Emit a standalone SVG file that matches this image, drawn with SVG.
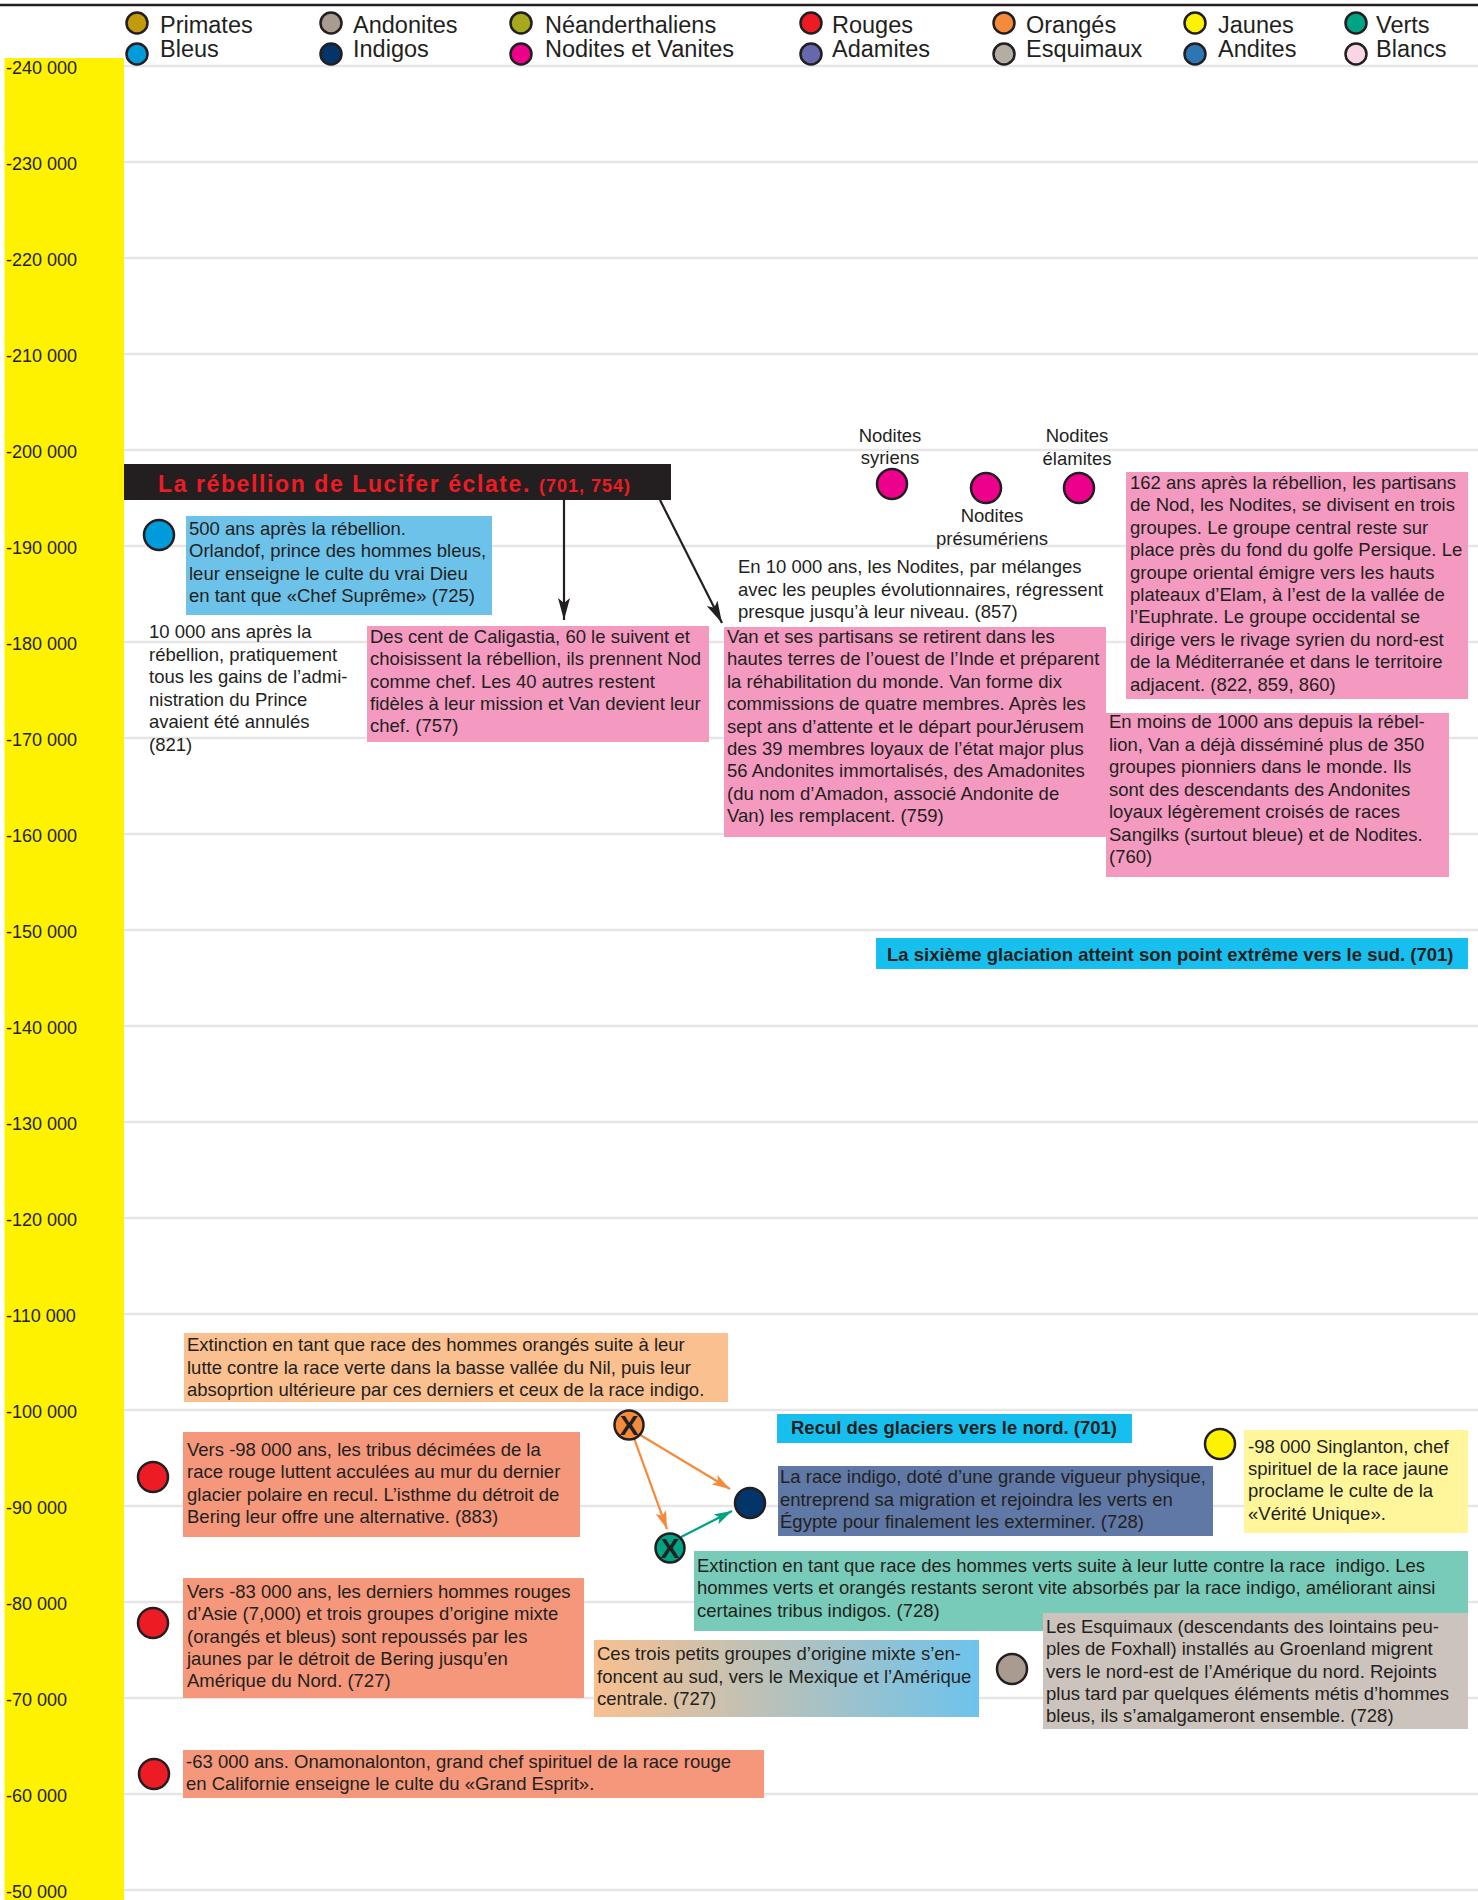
<svg xmlns="http://www.w3.org/2000/svg" width="1478" height="1900" viewBox="0 0 1478 1900">
<style>
.t{font-family:"Liberation Sans",Arial,Helvetica,sans-serif;font-size:18.5px;fill:#231f20}
.leg{font-size:23.5px}
.ax{font-size:18px}
.b{font-weight:bold}
.red{fill:#ed1c24}
.mid{text-anchor:middle}
.grid{stroke:#e6e6e6;stroke-width:2.5}
.dot{stroke:#231f20;stroke-width:2.5}
.pink{fill:#f49ac1}
.salmon{fill:#f5977b}
.cyan{fill:#17bfef}
.arrowK{stroke:#231f20;stroke-width:2.2;fill:none}
.arrowO{stroke:#f58b3a;stroke-width:2.2;fill:none}
.arrowG{stroke:#00a383;stroke-width:2.2;fill:none}
</style>
<defs>
<marker id="mk" markerWidth="24" markerHeight="14" refX="22" refY="7" orient="auto" markerUnits="userSpaceOnUse"><path d="M0,1 L22,7 L0,13 L5,7 Z" fill="#231f20"/></marker>
<marker id="mo" markerWidth="20" markerHeight="12" refX="18" refY="6" orient="auto" markerUnits="userSpaceOnUse"><path d="M0,0.5 L18,6 L0,11.5 L4,6 Z" fill="#f58b3a"/></marker>
<marker id="mg" markerWidth="20" markerHeight="12" refX="18" refY="6" orient="auto" markerUnits="userSpaceOnUse"><path d="M0,0.5 L18,6 L0,11.5 L4,6 Z" fill="#00a383"/></marker>
<linearGradient id="grad" x1="0" y1="0" x2="1" y2="0"><stop offset="0" stop-color="#f9c08f"/><stop offset="1" stop-color="#6dc3ec"/></linearGradient>
</defs>
<rect x="0" y="0" width="1478" height="1900" fill="#ffffff"/>
<line x1="0" y1="5" x2="1478" y2="5" stroke="#231f20" stroke-width="2.5"/>

<g id="axis">
<rect x="4.5" y="58" width="119.5" height="1842" fill="#fff200"/>
<g class="grid">
<line x1="124" y1="66" x2="1478" y2="66"/><line x1="124" y1="162" x2="1478" y2="162"/><line x1="124" y1="258" x2="1478" y2="258"/><line x1="124" y1="354" x2="1478" y2="354"/><line x1="124" y1="450" x2="1478" y2="450"/><line x1="124" y1="546" x2="1478" y2="546"/><line x1="124" y1="642" x2="1478" y2="642"/><line x1="124" y1="738" x2="1478" y2="738"/><line x1="124" y1="834" x2="1478" y2="834"/><line x1="124" y1="930" x2="1478" y2="930"/><line x1="124" y1="1026" x2="1478" y2="1026"/><line x1="124" y1="1122" x2="1478" y2="1122"/><line x1="124" y1="1218" x2="1478" y2="1218"/><line x1="124" y1="1314" x2="1478" y2="1314"/><line x1="124" y1="1410" x2="1478" y2="1410"/><line x1="124" y1="1506" x2="1478" y2="1506"/><line x1="124" y1="1602" x2="1478" y2="1602"/><line x1="124" y1="1698" x2="1478" y2="1698"/><line x1="124" y1="1794" x2="1478" y2="1794"/><line x1="124" y1="1890" x2="1478" y2="1890"/>
</g>
<g class="t ax">
<text x="6" y="74">-240 000</text><text x="6" y="170">-230 000</text><text x="6" y="266">-220 000</text><text x="6" y="362">-210 000</text><text x="6" y="458">-200 000</text><text x="6" y="554">-190 000</text><text x="6" y="650">-180 000</text><text x="6" y="746">-170 000</text><text x="6" y="842">-160 000</text><text x="6" y="938">-150 000</text><text x="6" y="1034">-140 000</text><text x="6" y="1130">-130 000</text><text x="6" y="1226">-120 000</text><text x="6" y="1322">-110 000</text><text x="6" y="1418">-100 000</text><text x="6" y="1514">-90 000</text><text x="6" y="1610">-80 000</text><text x="6" y="1706">-70 000</text><text x="6" y="1802">-60 000</text><text x="6" y="1898">-50 000</text>
</g>
</g>

<g id="legend">
<g class="dot">
<circle cx="137" cy="23" r="10.5" fill="#c19a0e"/>
<circle cx="331" cy="23" r="10.5" fill="#a99b8f"/>
<circle cx="521" cy="23" r="10.5" fill="#a6a91c"/>
<circle cx="811" cy="23" r="10.5" fill="#ed1c24"/>
<circle cx="1004" cy="23" r="10.5" fill="#f58b3a"/>
<circle cx="1195" cy="23" r="10.5" fill="#fff200"/>
<circle cx="1356" cy="23" r="10.5" fill="#00a383"/>
<circle cx="137" cy="54" r="10.5" fill="#009bdb"/>
<circle cx="331" cy="54" r="10.5" fill="#03356b"/>
<circle cx="521" cy="54" r="10.5" fill="#ec008c"/>
<circle cx="811" cy="54" r="10.5" fill="#6667ad"/>
<circle cx="1004" cy="54" r="10.5" fill="#b6ada2"/>
<circle cx="1195" cy="54" r="10.5" fill="#2e75b6"/>
<circle cx="1356" cy="54" r="10.5" fill="#f9d5e5"/>
</g>
<g class="t leg">
<text x="160" y="33">Primates</text><text x="353" y="33">Andonites</text><text x="545" y="33">Néanderthaliens</text><text x="832" y="33">Rouges</text><text x="1026" y="33">Orangés</text><text x="1218" y="33">Jaunes</text><text x="1376" y="33">Verts</text>
<text x="160" y="57">Bleus</text><text x="353" y="57">Indigos</text><text x="545" y="57">Nodites et Vanites</text><text x="832" y="57">Adamites</text><text x="1026" y="57">Esquimaux</text><text x="1218" y="57">Andites</text><text x="1376" y="57">Blancs</text>
</g>
</g>

<g id="rebellion">
<rect x="124" y="464" width="547" height="36" fill="#231f20"/>
<text x="158" y="492" class="t b red" letter-spacing="1.6" style="font-size:23px">La rébellion de Lucifer éclate. <tspan style="font-size:18px" letter-spacing="1">(701, 754)</tspan></text>
</g>

<g id="connectors">
<line x1="564" y1="500" x2="564" y2="620" class="arrowK" marker-end="url(#mk)"/>
<line x1="660" y1="500" x2="722" y2="623" class="arrowK" marker-end="url(#mk)"/>
<line x1="637" y1="1433" x2="730" y2="1489" class="arrowO" marker-end="url(#mo)"/>
<line x1="634" y1="1438" x2="667" y2="1529" class="arrowO" marker-end="url(#mo)"/>
<line x1="681" y1="1537" x2="732" y2="1511" class="arrowG" marker-end="url(#mg)"/>
</g>

<g id="orlandof">
<circle cx="159" cy="535" r="15" fill="#009bdb" class="dot"/>
<rect x="186" y="516" width="306" height="99" fill="#6dc2ea"/>
<text class="t" x="189" y="535">500 ans après la rébellion.<tspan x="189" dy="22.4">Orlandof, prince des hommes bleus,</tspan><tspan x="189" dy="22.4">leur enseigne le culte du vrai Dieu</tspan><tspan x="189" dy="22.4">en tant que «Chef Suprême» (725)</tspan></text>
</g>

<g id="gains">
<text class="t" x="149" y="638">10 000 ans après la<tspan x="149" dy="22.6">rébellion, pratiquement</tspan><tspan x="149" dy="22.6">tous les gains de l’admi-</tspan><tspan x="149" dy="22.6">nistration du Prince</tspan><tspan x="149" dy="22.6">avaient été annulés</tspan><tspan x="149" dy="22.6">(821)</tspan></text>
</g>

<g id="caligastia">
<rect x="367" y="626" width="342" height="116" class="pink"/>
<text class="t" x="370" y="643">Des cent de Caligastia, 60 le suivent et<tspan x="370" dy="22.3">choisissent la rébellion, ils prennent Nod</tspan><tspan x="370" dy="22.3">comme chef. Les 40 autres restent</tspan><tspan x="370" dy="22.3">fidèles à leur mission et Van devient leur</tspan><tspan x="370" dy="22.3">chef. (757)</tspan></text>
</g>

<g id="nodites-syriens">
<circle cx="892" cy="484" r="15" fill="#ec008c" class="dot"/>
<text class="t mid" x="890" y="442">Nodites<tspan x="890" dy="22">syriens</tspan></text>
</g>
<g id="nodites-presumeriens">
<circle cx="986" cy="488" r="15" fill="#ec008c" class="dot"/>
<text class="t mid" x="992" y="522">Nodites<tspan x="992" dy="22.5">présumériens</tspan></text>
</g>
<g id="nodites-elamites">
<circle cx="1079" cy="488" r="15" fill="#ec008c" class="dot"/>
<text class="t mid" x="1077" y="442">Nodites<tspan x="1077" dy="23">élamites</tspan></text>
</g>

<g id="regression">
<text class="t" x="738" y="573">En 10 000 ans, les Nodites, par mélanges<tspan x="738" dy="22.5">avec les peuples évolutionnaires, régressent</tspan><tspan x="738" dy="22.5">presque jusqu’à leur niveau. (857)</tspan></text>
</g>

<g id="van">
<rect x="724" y="627" width="382" height="210" class="pink"/>
<text class="t" x="727" y="643">Van et ses partisans se retirent dans les<tspan x="727" dy="22.4">hautes terres de l’ouest de l’Inde et préparent</tspan><tspan x="727" dy="22.4">la réhabilitation du monde. Van forme dix</tspan><tspan x="727" dy="22.4">commissions de quatre membres. Après les</tspan><tspan x="727" dy="22.4">sept ans d’attente et le départ pourJérusem</tspan><tspan x="727" dy="22.4">des 39 membres loyaux de l’état major plus</tspan><tspan x="727" dy="22.4">56 Andonites immortalisés, des Amadonites</tspan><tspan x="727" dy="22.4">(du nom d’Amadon, associé Andonite de</tspan><tspan x="727" dy="22.4">Van) les remplacent. (759)</tspan></text>
</g>

<g id="partisans-nod">
<rect x="1126" y="472" width="342" height="227" class="pink"/>
<text class="t" x="1130" y="489">162 ans après la rébellion, les partisans<tspan x="1130" dy="22.4">de Nod, les Nodites, se divisent en trois</tspan><tspan x="1130" dy="22.4">groupes. Le groupe central reste sur</tspan><tspan x="1130" dy="22.4">place près du fond du golfe Persique. Le</tspan><tspan x="1130" dy="22.4">groupe oriental émigre vers les hauts</tspan><tspan x="1130" dy="22.4">plateaux d’Elam, à l’est de la vallée de</tspan><tspan x="1130" dy="22.4">l’Euphrate. Le groupe occidental se</tspan><tspan x="1130" dy="22.4">dirige vers le rivage syrien du nord-est</tspan><tspan x="1130" dy="22.4">de la Méditerranée et dans le territoire</tspan><tspan x="1130" dy="22.4">adjacent. (822, 859, 860)</tspan></text>
</g>

<g id="pionniers">
<rect x="1106" y="713" width="343" height="164" class="pink"/>
<text class="t" x="1109" y="728">En moins de 1000 ans depuis la rébel-<tspan x="1109" dy="22.5">lion, Van a déjà disséminé plus de 350</tspan><tspan x="1109" dy="22.5">groupes pionniers dans le monde. Ils</tspan><tspan x="1109" dy="22.5">sont des descendants des Andonites</tspan><tspan x="1109" dy="22.5">loyaux légèrement croisés de races</tspan><tspan x="1109" dy="22.5">Sangilks (surtout bleue) et de Nodites.</tspan><tspan x="1109" dy="22.5">(760)</tspan></text>
</g>

<g id="glaciation">
<rect x="876" y="938" width="592" height="31" class="cyan"/>
<text class="t b" x="887" y="961">La sixième glaciation atteint son point extrême vers le sud. (701)</text>
</g>

<g id="orange-extinction">
<rect x="184" y="1333" width="544" height="69" fill="#fac08f"/>
<text class="t" x="187" y="1351">Extinction en tant que race des hommes orangés suite à leur<tspan x="187" dy="22.5">lutte contre la race verte dans la basse vallée du Nil, puis leur</tspan><tspan x="187" dy="22.5">absoprtion ultérieure par ces derniers et ceux de la race indigo.</tspan></text>
</g>

<g id="rouges-98000">
<circle cx="153" cy="1477" r="15" fill="#ed1c24" class="dot"/>
<rect x="183" y="1432" width="397" height="105" class="salmon"/>
<text class="t" x="187" y="1456">Vers -98 000 ans, les tribus décimées de la<tspan x="187" dy="22.4">race rouge luttent acculées au mur du dernier</tspan><tspan x="187" dy="22.4">glacier polaire en recul. L’isthme du détroit de</tspan><tspan x="187" dy="22.4">Bering leur offre une alternative. (883)</tspan></text>
</g>

<g id="orange-x">
<circle cx="629" cy="1425" r="14.5" fill="#f58b3a" class="dot"/>
<text class="t b mid" x="629" y="1435" style="font-size:28px">X</text>
</g>
<g id="green-x">
<circle cx="670" cy="1548" r="14.5" fill="#00a383" class="dot"/>
<text class="t b mid" x="670" y="1558" style="font-size:28px">X</text>
</g>
<g id="indigo">
<circle cx="750" cy="1503" r="15" fill="#03356b" class="dot"/>
</g>

<g id="recul">
<rect x="777" y="1414" width="355" height="29" class="cyan"/>
<text class="t b" x="791" y="1434">Recul des glaciers vers le nord. (701)</text>
</g>

<g id="indigo-migration">
<rect x="778" y="1466" width="435" height="70" fill="#5f78a6"/>
<text class="t" x="780" y="1483">La race indigo, doté d’une grande vigueur physique,<tspan x="780" dy="22.5">entreprend sa migration et rejoindra les verts en</tspan><tspan x="780" dy="22.5">Égypte pour finalement les exterminer. (728)</tspan></text>
</g>

<g id="singlanton">
<circle cx="1220" cy="1444" r="15" fill="#fff200" class="dot"/>
<rect x="1244" y="1430" width="224" height="103" fill="#fff69b"/>
<text class="t" x="1248" y="1453">-98 000 Singlanton, chef<tspan x="1248" dy="22.2">spirituel de la race jaune</tspan><tspan x="1248" dy="22.2">proclame le culte de la</tspan><tspan x="1248" dy="22.2">«Vérité Unique».</tspan></text>
</g>

<g id="verts-extinction">
<rect x="694" y="1551" width="774" height="80" fill="#78cbb8"/>
<text class="t" x="697" y="1572">Extinction en tant que race des hommes verts suite à leur lutte contre la race&#160; indigo. Les<tspan x="697" dy="22.4">hommes verts et orangés restants seront vite absorbés par la race indigo, améliorant ainsi</tspan><tspan x="697" dy="22.4">certaines tribus indigos. (728)</tspan></text>
</g>

<g id="esquimaux">
<circle cx="1012" cy="1669" r="15" fill="#a99b8f" class="dot"/>
<rect x="1043" y="1613" width="425" height="116" fill="#ccc3bd"/>
<text class="t" x="1046" y="1633">Les Esquimaux (descendants des lointains peu-<tspan x="1046" dy="22.3">ples de Foxhall) installés au Groenland migrent</tspan><tspan x="1046" dy="22.3">vers le nord-est de l’Amérique du nord. Rejoints</tspan><tspan x="1046" dy="22.3">plus tard par quelques éléments métis d’hommes</tspan><tspan x="1046" dy="22.3">bleus, ils s’amalgameront ensemble. (728)</tspan></text>
</g>

<g id="rouges-83000">
<circle cx="153" cy="1623" r="15" fill="#ed1c24" class="dot"/>
<rect x="183" y="1578" width="401" height="120" class="salmon"/>
<text class="t" x="187" y="1598">Vers -83 000 ans, les derniers hommes rouges<tspan x="187" dy="22.3">d’Asie (7,000) et trois groupes d’origine mixte</tspan><tspan x="187" dy="22.3">(orangés et bleus) sont repoussés par les</tspan><tspan x="187" dy="22.3">jaunes par le détroit de Bering jusqu’en</tspan><tspan x="187" dy="22.3">Amérique du Nord. (727)</tspan></text>
</g>

<g id="mixtes">
<rect x="594" y="1640" width="385" height="77" fill="url(#grad)"/>
<text class="t" x="597" y="1660">Ces trois petits groupes d’origine mixte s’en-<tspan x="597" dy="22.5">foncent au sud, vers le Mexique et l’Amérique</tspan><tspan x="597" dy="22.5">centrale. (727)</tspan></text>
</g>

<g id="onamonalonton">
<circle cx="154" cy="1774" r="15" fill="#ed1c24" class="dot"/>
<rect x="183" y="1750" width="581" height="48" class="salmon"/>
<text class="t" x="186" y="1768">-63 000 ans. Onamonalonton, grand chef spirituel de la race rouge<tspan x="186" dy="22">en Californie enseigne le culte du «Grand Esprit».</tspan></text>
</g>
</svg>
